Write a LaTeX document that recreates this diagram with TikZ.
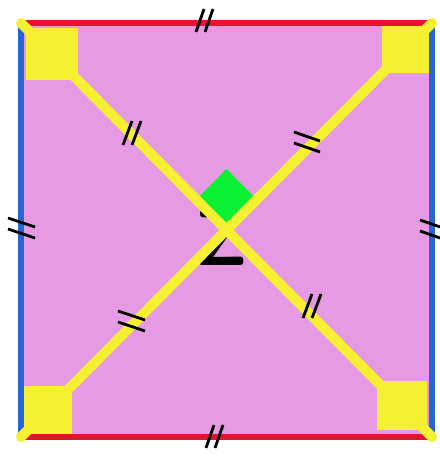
\documentclass[tikz,border=0pt]{standalone}
\usetikzlibrary{calc}

\definecolor{sqpink}{RGB}{229,154,227}
\definecolor{sidered}{RGB}{232,18,48}
\definecolor{sideblue}{RGB}{40,100,210}
\definecolor{diagyellow}{RGB}{246,240,50}
\definecolor{rightgreen}{RGB}{10,240,50}

\tikzset{
  redside/.style={draw=sidered, line width=6.5pt, line cap=round},
  blueside/.style={draw=sideblue, line width=6.5pt, line cap=round},
  diagline/.style={draw=diagyellow, line width=10pt, line cap=round},
  cornerbox/.style={fill=diagyellow},
  tickmark/.style={draw=black, line width=2.8pt},
}

\begin{document}
\begin{tikzpicture}[x=1pt, y=-1pt]

  \useasboundingbox (0,0) rectangle (439,454);

  % --- Corners ---
  \coordinate (tl) at (21,23);
  \coordinate (tr) at (432,23);
  \coordinate (bl) at (21,437);
  \coordinate (br) at (432,437);

  % --- Face ---
  \fill[sqpink] (tl) rectangle (br);
  \node[font=\sffamily\bfseries\fontsize{80}{80}\selectfont, text=black] (zlabel) at (221,238) {Z};

  % --- Corner boxes ---
  \fill[cornerbox] (26,28) rectangle (78,80);
  \fill[cornerbox] (382,26) rectangle (430,73);
  \fill[cornerbox] (23,386) rectangle (72,434);
  \fill[cornerbox] (377,381) rectangle (427,430);

  % --- Sides ---
  \draw[redside] (tl) -- (tr);
  \draw[redside] (bl) -- (br);
  \draw[blueside] ($(tl)+(0,5)$) -- ($(bl)+(0,-5)$);
  \draw[blueside] ($(tr)+(0,5)$) -- ($(br)+(0,-5)$);

  % --- Diagonals ---
  \coordinate (mid) at (intersection of tl--br and tr--bl);
  \fill[rightgreen] (mid) -- ($(mid)!43pt!(tl)$) -- ($($(mid)!43pt!(tl)$)+($(mid)!43pt!(tr)$)-(mid)$) -- ($(mid)!43pt!(tr)$) -- cycle;
  \draw[diagline] (tl) -- (br);
  \draw[diagline] (tr) -- (bl);

  % --- Ticks on sides ---
  \foreach \x in {0,9} {
    \draw[tickmark] (196+\x,32) -- (204+\x,9);
    \draw[tickmark] (206+\x,448) -- (214+\x,425);
  }
  \foreach \y in {0,11} {
    \draw[tickmark] (8,218+\y) -- (35,227+\y);
    \draw[tickmark] (420,220+\y) -- (446,229+\y);
  }

  % --- Ticks on diagonals ---
  \foreach \x in {0,9} {
    \draw[tickmark] (123+\x,145) -- (132+\x,121);
    \draw[tickmark] (303+\x,318) -- (312+\x,294);
  }
  \foreach \y in {0,11} {
    \draw[tickmark] (294,132+\y) -- (320,141+\y);
    \draw[tickmark] (118,311+\y) -- (145,320+\y);
  }

\end{tikzpicture}
\end{document}
